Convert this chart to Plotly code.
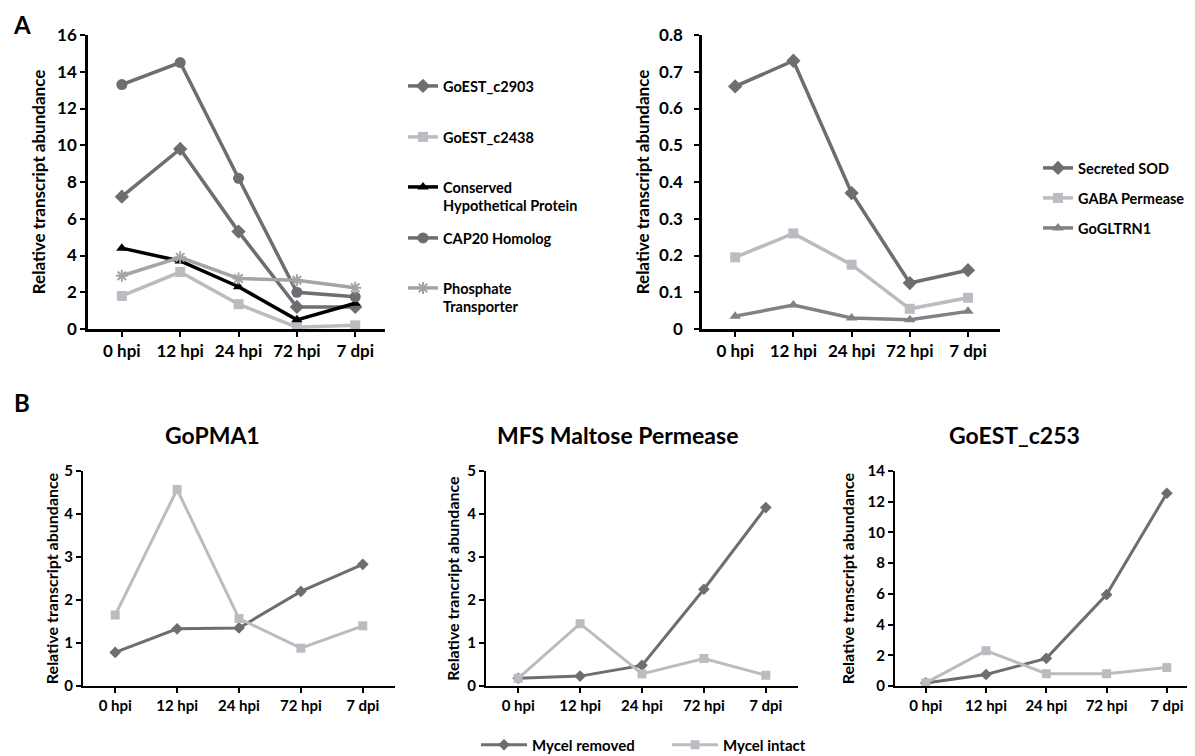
import plotly.graph_objects as go

W, H = 1195, 756
OFF = 8  # default page margin of the html body
def fx(px): return (px - OFF) / W
def fy(py): return 1 - (py - OFF) / H

categories = ["0 hpi", "12 hpi", "24 hpi", "72 hpi", "7 dpi"]

# Panel A (left)
goest_c2903 = [7.2, 9.8, 5.3, 1.2, 1.2]
goest_c2438 = [1.8, 3.1, 1.35, 0.1, 0.2]
conserved_hyp = [4.4, 3.7, 2.3, 0.5, 1.4]
cap20 = [13.3, 14.5, 8.2, 2.0, 1.75]
phosphate = [2.9, 3.9, 2.75, 2.65, 2.25]

# Panel A (right)
secreted_sod = [0.66, 0.73, 0.37, 0.125, 0.16]
gaba_permease = [0.195, 0.26, 0.175, 0.055, 0.085]
gogltrn1 = [0.035, 0.065, 0.03, 0.025, 0.048]

# Panel B
pma1_removed = [0.78, 1.33, 1.35, 2.2, 2.83]
pma1_intact = [1.65, 4.57, 1.57, 0.88, 1.4]
mfs_removed = [0.18, 0.23, 0.48, 2.25, 4.15]
mfs_intact = [0.18, 1.45, 0.28, 0.64, 0.25]
c253_removed = [0.2, 0.75, 1.8, 5.95, 12.55]
c253_intact = [0.2, 2.3, 0.8, 0.8, 1.2]

DARK = "#6c6e71"
LIGHT = "#b9bdc1"
MID = "#a2a4a7"
MID2 = "#808285"
FONT = "Lato"

fig = go.Figure()

def add(y, name, color, symbol, xa, ya, legend, size=10, lw=3.5, showlegend=True):
    marker = dict(symbol=symbol, size=size, color=color)
    if symbol == "asterisk-open":
        marker["line"] = dict(color=color, width=2)
    fig.add_trace(go.Scatter(
        x=categories, y=y, name=name, mode="lines+markers",
        line=dict(color=color, width=lw), marker=marker,
        xaxis=xa, yaxis=ya, legend=legend, showlegend=showlegend))

add(goest_c2903, "GoEST_c2903", DARK, "diamond", "x", "y", "legend", size=11)
add(goest_c2438, "GoEST_c2438", LIGHT, "square", "x", "y", "legend2", size=10)
add(conserved_hyp, "Conserved<br>Hypothetical Protein", "#000000", "triangle-up", "x", "y", "legend3", size=10)
add(cap20, "CAP20 Homolog", DARK, "circle", "x", "y", "legend4", size=11)
add(phosphate, "Phosphate<br>Transporter", MID, "asterisk-open", "x", "y", "legend5", size=10)

add(secreted_sod, "Secreted SOD", DARK, "diamond", "x2", "y2", "legend6", size=11)
add(gaba_permease, "GABA Permease", LIGHT, "square", "x2", "y2", "legend7", size=10)
add(gogltrn1, "GoGLTRN1", MID2, "triangle-up", "x2", "y2", "legend8", size=10)

add(pma1_removed, "Mycel removed", DARK, "diamond", "x3", "y3", "legend9", size=9, lw=3)
add(pma1_intact, "Mycel intact", LIGHT, "square", "x3", "y3", "legend9", size=9, lw=3)
add(mfs_removed, "Mycel removed", DARK, "diamond", "x4", "y4", "legend9", size=9, lw=3, showlegend=False)
add(mfs_intact, "Mycel intact", LIGHT, "square", "x4", "y4", "legend9", size=9, lw=3, showlegend=False)
add(c253_removed, "Mycel removed", DARK, "diamond", "x5", "y5", "legend9", size=9, lw=3, showlegend=False)
add(c253_intact, "Mycel intact", LIGHT, "square", "x5", "y5", "legend9", size=9, lw=3, showlegend=False)

def xax(domain, rng, fs, anchor, lw):
    return dict(domain=[fx(domain[0]), fx(domain[1])], range=rng, anchor=anchor,
                type="category", showline=True, linecolor="black", linewidth=lw,
                ticks="outside", ticklen=5, tickwidth=2, tickcolor="black",
                showgrid=False, zeroline=False, automargin=False,
                tickfont=dict(family=FONT, size=fs, color="black", weight="bold"))

def yax(domain, rng, dtick, fs, tfs, title, anchor, lw, standoff, lblstand=0):
    return dict(domain=[fy(domain[0]), fy(domain[1])], range=rng, dtick=dtick, anchor=anchor,
                showline=True, linecolor="black", linewidth=lw,
                ticks="outside", ticklen=5, tickwidth=2, tickcolor="black",
                showgrid=False, zeroline=False, automargin=False,
                ticklabelstandoff=lblstand,
                tickfont=dict(family=FONT, size=fs, color="black", weight="bold"),
                title=dict(text=title, standoff=standoff,
                           font=dict(family=FONT, size=tfs, color="black", weight="bold")))

TT = "Relative transcript abundance"
layout = dict(
    width=W, height=H, margin=dict(l=0, r=0, t=0, b=0, autoexpand=False),
    paper_bgcolor="white", plot_bgcolor="white",
    font=dict(family=FONT, color="black"),
    xaxis=xax((88, 385), [-0.58, 4.51], 17, "y", 2.5),
    yaxis=yax((329, 35), [0, 16], 2, 17, 17, TT, "x", 2.5, 8),
    xaxis2=xax((702, 1000), [-0.57, 4.55], 17, "y2", 2.5),
    yaxis2=yax((329, 35), [0, 0.8], 0.1, 17, 17, TT, "x2", 2.5, 6, 8),
    xaxis3=xax((83, 395), [-0.52, 4.52], 15, "y3", 2),
    yaxis3=yax((686, 471), [0, 5], 1, 15, 16, TT, "x3", 2, 2),
    xaxis4=xax((486, 798), [-0.52, 4.52], 15, "y4", 2),
    yaxis4=yax((686, 471), [0, 5], 1, 15, 16, "Relative trancript abundance", "x4", 2, 4),
    xaxis5=xax((895, 1194), [-0.51, 4.45], 15, "y5", 2),
    yaxis5=yax((686, 471), [0, 14], 2, 15, 16, TT, "x5", 2, 9),
)

def leg(xp, yp, fs=14.5, **kw):
    d = dict(x=fx(xp), y=fy(yp), xanchor="left", yanchor="top", valign="top",
             bgcolor="rgba(0,0,0,0)", borderwidth=0, itemwidth=30,
             font=dict(family=FONT, size=fs, color="black", weight="bold"))
    d.update(kw)
    return d

left_legend_y = [86, 137, 187, 238, 288]
for i, yy in enumerate(left_legend_y):
    key = "legend" if i == 0 else f"legend{i+1}"
    layout[key] = leg(403, yy - 16)
right_legend_y = [168, 198, 228]
for i, yy in enumerate(right_legend_y):
    layout[f"legend{i+6}"] = leg(1038, yy - 16)
layout["legend9"] = leg(476, 745, fs=15, orientation="h", yanchor="middle",
                         entrywidth=130, entrywidthmode="pixels", itemwidth=46)

fig.update_layout(**layout)

annots = [
    ("A", 22, 24, 24), ("B", 22, 402, 24),
    ("GoPMA1", 212, 435, 23), ("MFS Maltose Permease", 617, 435, 23), ("GoEST_c253", 1015, 435, 23),
]
for t, x, y, s in annots:
    fig.add_annotation(text=t, x=fx(x), y=fy(y), xref="paper", yref="paper",
                       showarrow=False, xanchor="center", yanchor="middle",
                       font=dict(family=FONT, size=s, color="black", weight="bold"))

fig.write_html("out.html")
